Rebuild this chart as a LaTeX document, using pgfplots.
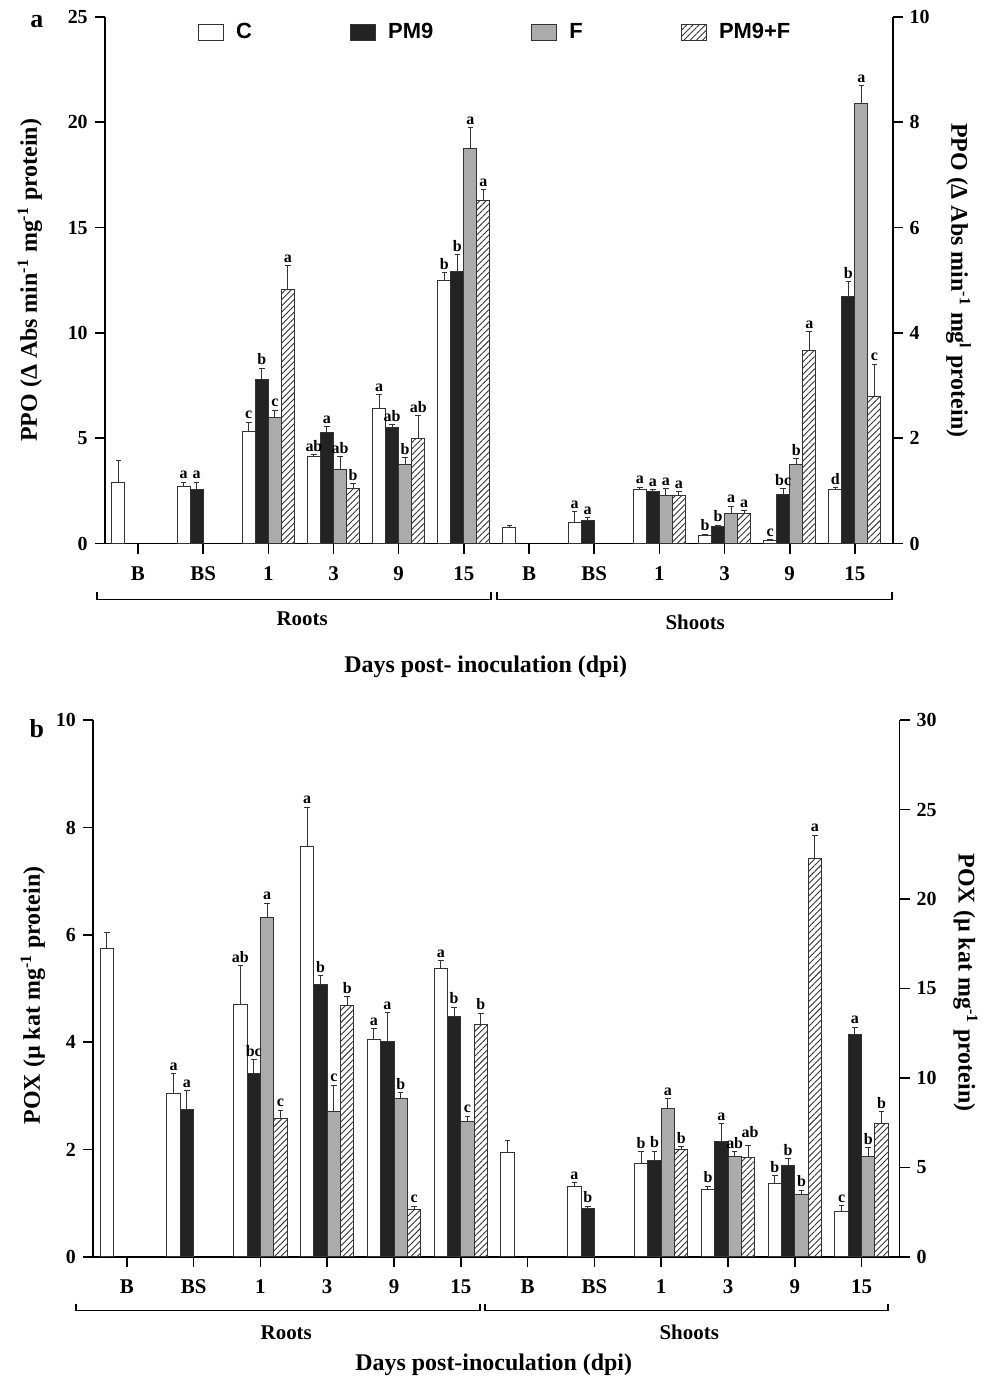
\documentclass[border=0pt]{standalone}
\usepackage{pgfplots}
\pgfplotsset{compat=1.18}
\usepackage{pgfplotstable}
\usetikzlibrary{patterns.meta}
\usepackage{fontspec}
\setmainfont{Liberation Serif}
\newfontfamily\legfont{Liberation Sans}

\definecolor{pmdark}{HTML}{232323}
\definecolor{fgray}{HTML}{ABABAB}
\definecolor{edge}{HTML}{333333}

% PPO, roots (left axis) and shoots (right axis)
\pgfplotstableread{
g C Ce PM PMe F Fe PF PFe
0 2.92 1.02 nan nan nan nan nan nan
1 2.71 0.21 2.56 0.36 nan nan nan nan
2 5.34 0.42 7.81 0.51 6.00 0.34 12.07 1.13
3 4.15 0.06 5.29 0.26 3.54 0.59 2.60 0.24
4 6.42 0.65 5.49 0.16 3.77 0.30 5.00 1.07
5 12.51 0.35 12.94 0.79 18.74 0.99 16.30 0.51
}\ppoR
\pgfplotstableread{
g C Ce PM PMe F Fe PF PFe
6 0.30 0.05 nan nan nan nan nan nan
7 0.40 0.21 0.44 0.05 nan nan nan nan
8 1.03 0.04 0.99 0.04 0.91 0.13 0.92 0.07
9 0.15 0.03 0.32 0.03 0.57 0.14 0.57 0.05
10 0.05 0.02 0.93 0.11 1.50 0.11 3.66 0.36
11 1.02 0.04 4.70 0.27 8.35 0.34 2.79 0.62
}\ppoS
% POX, roots (left axis) and shoots (right axis)
\pgfplotstableread{
g C Ce PM PMe F Fe PF PFe
0 5.75 0.30 nan nan nan nan nan nan
1 3.05 0.36 2.74 0.35 nan nan nan nan
2 4.71 0.71 3.41 0.26 6.32 0.27 2.57 0.16
3 7.65 0.73 5.07 0.17 2.70 0.50 4.69 0.16
4 4.04 0.21 4.01 0.54 2.94 0.12 0.88 0.06
5 5.38 0.14 4.48 0.17 2.52 0.10 4.32 0.22
}\poxR
\pgfplotstableread{
g C Ce PM PMe F Fe PF PFe
6 5.82 0.69 nan nan nan nan nan nan
7 3.94 0.21 2.69 0.14 nan nan nan nan
8 5.24 0.62 5.37 0.54 8.27 0.56 5.98 0.19
9 3.77 0.17 6.45 0.99 5.60 0.26 5.56 0.65
10 4.09 0.44 5.11 0.37 3.46 0.26 22.29 1.28
11 2.55 0.29 12.40 0.43 5.63 0.47 7.43 0.67
}\poxS

\pgfplotsset{
  sqleg/.style={legend image code/.code={%
    \draw[##1] (0pt,-4pt) rectangle (12.5pt,4pt);
    \path[draw=none, fill=none] (17pt,0pt) circle (0pt);}},
  barbase/.style={ybar, bar width=0.2, bar shift=0pt, draw=edge, line width=0.5pt, sqleg},
  barC/.style={barbase, fill=white},
  barPM/.style={barbase, fill=pmdark},
  barF/.style={barbase, fill=fgray},
  barPF/.style={barbase, pattern={Lines[angle=45,distance=2.2pt,line width=0.45pt]}, pattern color=edge},
  errs/.style={error bars/.cd, y dir=plus, y explicit,
    error bar style={edge, line width=0.5pt},
    error mark options={rotate=90, edge, line width=0.5pt, mark size=1.4pt}},
  labs/.style={forget plot, draw=none, mark=none,
    nodes near coords, point meta=explicit symbolic,
    every node near coord/.append style={font=\bfseries\fontsize{8}{9}\selectfont, anchor=south, inner sep=1.4pt, black}},
  panel/.style={scale only axis, clip=false,
    axis line style={line width=0.8pt, black},
    tick style={line width=0.8pt, black},
    major tick length=5pt, tick align=outside,
    /pgf/number format/assume math mode=true,
    tick label style={font=\bfseries\fontsize{10}{12}\selectfont},
    ymin=0},
  xcats/.style={axis x line*=bottom, axis y line*=left,
    xtick={0,...,11},
    xticklabels={B,BS,1,3,9,15,B,BS,1,3,9,15},
    xticklabel style={font=\bfseries\fontsize{10.5}{12}\selectfont, yshift=-3pt}},
}

% the four bars of each group sit at -0.3, -0.1, 0.1, 0.3 from the group tick
\newcommand{\bars}[1]{%
  \addplot[barC, errs] table[x expr=\thisrow{g}-0.3, y=C, y error=Ce] {#1};
  \addplot[barPM, errs] table[x expr=\thisrow{g}-0.1, y=PM, y error=PMe] {#1};
  \addplot[barF, errs] table[x expr=\thisrow{g}+0.1, y=F, y error=Fe] {#1};
  \addplot[barPF, errs] table[x expr=\thisrow{g}+0.3, y=PF, y error=PFe] {#1};
}

\begin{document}
\begin{tikzpicture}

% ---------- panel a: PPO ----------
\begin{axis}[panel, xcats, at={(52.5pt,-272.5pt)}, anchor=south west,
  width=395pt, height=264pt, xmin=-0.51, xmax=11.58,
  ymax=25, ytick={0,5,...,25},
  legend columns=4,
  legend style={draw=none, fill=none, at={(0.11,0.97)}, anchor=west,
    font=\legfont\bfseries\fontsize{11}{13}\selectfont,
    /tikz/every even column/.append style={column sep=47pt}},
  legend entries={C,PM9,F,PM9+F}]
\bars{\ppoR}
\addplot[labs, x filter/.expression={x-0.3}] coordinates {(1,2.92)[a] (2,5.76)[c] (3,4.21)[ab] (4,7.07)[a] (5,12.86)[b]};
\addplot[labs, x filter/.expression={x-0.1}] coordinates {(1,2.92)[a] (2,8.32)[b] (3,5.55)[a] (4,5.65)[ab] (5,13.73)[b]};
\addplot[labs, x filter/.expression={x+0.1}] coordinates {(2,6.34)[c] (3,4.13)[ab] (4,4.07)[b] (5,19.73)[a]};
\addplot[labs, x filter/.expression={x+0.3}] coordinates {(2,13.20)[a] (3,2.84)[b] (4,6.07)[ab] (5,16.81)[a]};
\end{axis}
\begin{axis}[panel, at={(52.5pt,-272.5pt)}, anchor=south west,
  width=395pt, height=264pt, xmin=-0.51, xmax=11.58,
  hide x axis, axis y line*=right,
  ymax=10, ytick={0,2,...,10}]
\bars{\ppoS}
\addplot[labs, x filter/.expression={x-0.3}] coordinates {(7,0.61)[a] (8,1.07)[a] (9,0.18)[b] (10,0.07)[c] (11,1.06)[d]};
\addplot[labs, x filter/.expression={x-0.1}] coordinates {(7,0.49)[a] (8,1.03)[a] (9,0.35)[b] (10,1.04)[bc] (11,4.97)[b]};
\addplot[labs, x filter/.expression={x+0.1}] coordinates {(8,1.04)[a] (9,0.71)[a] (10,1.61)[b] (11,8.69)[a]};
\addplot[labs, x filter/.expression={x+0.3}] coordinates {(8,0.99)[a] (9,0.62)[a] (10,4.02)[a] (11,3.41)[c]};
\end{axis}

% ---------- panel b: POX ----------
\begin{axis}[panel, xcats, at={(46.5pt,-630pt)}, anchor=south west,
  width=404.5pt, height=269pt, xmin=-0.51, xmax=11.57,
  ymax=10, ytick={0,2,...,10}]
\bars{\poxR}
\addplot[labs, x filter/.expression={x-0.3}] coordinates {(1,3.41)[a] (2,5.42)[ab] (3,8.38)[a] (4,4.25)[a] (5,5.52)[a]};
\addplot[labs, x filter/.expression={x-0.1}] coordinates {(1,3.09)[a] (2,3.67)[bc] (3,5.24)[b] (4,4.55)[a] (5,4.65)[b]};
\addplot[labs, x filter/.expression={x+0.1}] coordinates {(2,6.59)[a] (3,3.20)[c] (4,3.06)[b] (5,2.62)[c]};
\addplot[labs, x filter/.expression={x+0.3}] coordinates {(2,2.73)[c] (3,4.85)[b] (4,0.94)[c] (5,4.54)[b]};
\end{axis}
\begin{axis}[panel, at={(46.5pt,-630pt)}, anchor=south west,
  width=404.5pt, height=269pt, xmin=-0.51, xmax=11.57,
  hide x axis, axis y line*=right,
  ymax=30, ytick={0,5,...,30}]
\bars{\poxS}
\addplot[labs, x filter/.expression={x-0.3}] coordinates {(7,4.15)[a] (8,5.86)[b] (9,3.94)[b] (10,4.53)[b] (11,2.84)[c]};
\addplot[labs, x filter/.expression={x-0.1}] coordinates {(7,2.83)[b] (8,5.91)[b] (9,7.44)[a] (10,5.48)[b] (11,12.83)[a]};
\addplot[labs, x filter/.expression={x+0.1}] coordinates {(8,8.83)[a] (9,5.86)[ab] (10,3.72)[b] (11,6.10)[b]};
\addplot[labs, x filter/.expression={x+0.3}] coordinates {(8,6.17)[b] (10,23.57)[a] (11,8.10)[b]};
% raised a little, as in the reference, so it clears the F label beside it
\addplot[labs, x filter/.expression={x+0.3}, every node near coord/.append style={yshift=2.5pt, xshift=1pt}] coordinates {(9,6.21)[ab]};
\end{axis}

% ---------- annotations (pixel grid of the reference) ----------
\begin{scope}[x=0.5pt, y=-0.5pt]
\path (0,0) rectangle (997,1382);
\node[font=\bfseries\fontsize{13}{15}\selectfont] at (37,22) {a};
\node[font=\bfseries\fontsize{13}{15}\selectfont] at (37,731) {b};

\node[rotate=90, font=\bfseries\fontsize{12}{14}\selectfont] at (30,281)
  {PPO (Δ Abs min\textsuperscript{-1} mg\textsuperscript{-1} protein)};
\node[rotate=-90, font=\bfseries\fontsize{12}{14}\selectfont] at (961,281)
  {PPO (Δ Abs min\textsuperscript{-1} mg\textsuperscript{l} protein)};
\node[rotate=90, font=\bfseries\fontsize{12}{14}\selectfont] at (33,998)
  {POX (µ kat mg\textsuperscript{-1} protein)};
\node[rotate=-90, font=\bfseries\fontsize{12}{14}\selectfont] at (968,985)
  {POX (µ kat mg\textsuperscript{-1} protein)};

\draw[line width=0.8pt] (97,594) -- (97,601) -- (492,601) -- (492,594);
\draw[line width=0.8pt] (498,594) -- (498,601) -- (894,601) -- (894,594);
\node[font=\bfseries\fontsize{10.5}{12}\selectfont] at (303,620) {Roots};
\node[font=\bfseries\fontsize{10.5}{12}\selectfont] at (697,624) {Shoots};
\node[font=\bfseries\fontsize{12}{14}\selectfont] at (487,669) {Days post- inoculation (dpi)};

\draw[line width=0.8pt] (76,1307) -- (76,1314) -- (481,1314) -- (481,1307);
\draw[line width=0.8pt] (486,1307) -- (486,1314) -- (890,1314) -- (890,1307);
\node[font=\bfseries\fontsize{10.5}{12}\selectfont] at (287,1336) {Roots};
\node[font=\bfseries\fontsize{10.5}{12}\selectfont] at (691,1336) {Shoots};
\node[font=\bfseries\fontsize{12}{14}\selectfont] at (495,1368) {Days post-inoculation (dpi)};
\end{scope}
\end{tikzpicture}
\end{document}
